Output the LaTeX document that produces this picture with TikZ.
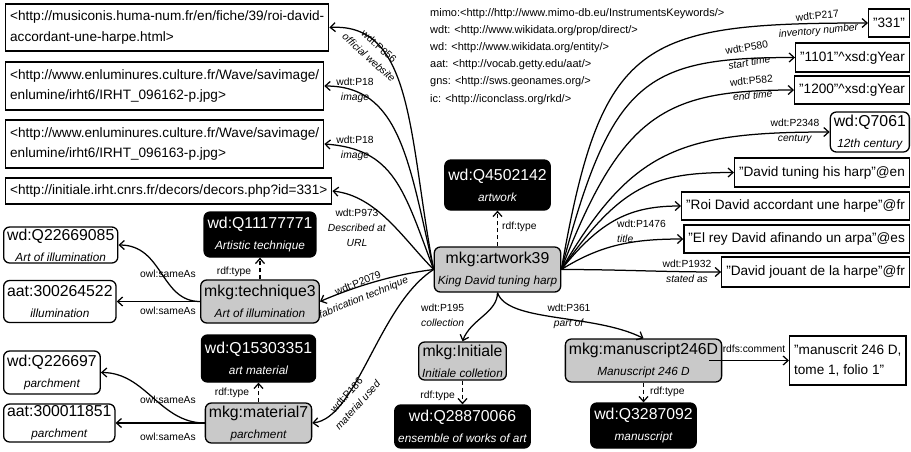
\documentclass[tikz,border=0pt]{standalone}
\usepackage{fontspec}
\setmainfont{Liberation Sans}
\usetikzlibrary{arrows.meta}

\newcommand{\fgrand}{\fontsize{15.8}{21}\selectfont}
\newcommand{\fpetit}{\fontsize{11.8}{13}\selectfont\itshape}
\newcommand{\flien}{\fontsize{10.3}{15}\selectfont}
\newcommand{\fadr}{\fontsize{13.6}{20.5}\selectfont}
\newcommand{\fns}{\fontsize{11}{17.2}\selectfont}
\newcommand{\ent}[2]{#1\\{\fpetit #2}}

\tikzset{
  classe/.style={draw, rounded corners=6pt, fill=black, text=white, font=\fgrand, align=center, inner xsep=3.5pt, inner ysep=1pt, line width=1.3pt},
  ressource/.style={draw, rounded corners=6pt, fill=gray!42, font=\fgrand, align=center, inner xsep=3.5pt, inner ysep=1pt, line width=1.3pt},
  externe/.style={draw, rounded corners=6pt, fill=white, font=\fgrand, align=center, inner xsep=3.5pt, inner ysep=1pt, line width=1.3pt},
  litteral/.style={draw, font=\fadr, align=left, inner xsep=4.5pt, inner ysep=1pt, line width=1.3pt},
  etiq/.style={font=\flien, align=center, inner sep=0pt},
  lien/.style={line width=1.25pt, -{Straight Barb[length=5pt,width=9pt]}},
  type/.style={lien, dash pattern=on 4pt off 3pt},
}

\begin{document}
\begin{tikzpicture}[x=1pt, y=1pt]
\useasboundingbox (0,0) rectangle (911,-451);

% Préfixes
\node[anchor=north west, align=left, font=\fns, inner sep=0pt] (prefixes) at (430,-8)
  {mimo:<http://http://www.mimo-db.eu/InstrumentsKeywords/>\\
   wdt: <http://www.wikidata.org/prop/direct/>\\
   wd: <http://www.wikidata.org/entity/>\\
   aat: <http://vocab.getty.edu/aat/>\\
   gns: <http://sws.geonames.org/>\\
   ic: <http://iconclass.org/rkd/>};

% Ressources
\node[ressource, minimum height=45] (art) at (497.5,-269.5) {\ent{mkg:artwork39}{King David tuning harp}};
\node[ressource, minimum height=43] (tech) at (260,-301.5) {\ent{mkg:technique3}{Art of illumination}};
\node[ressource, minimum height=40] (mat) at (258.5,-423) {\ent{mkg:material7}{parchment}};
\node[ressource, minimum height=38] (init) at (462.5,-361) {\ent{mkg:Initiale}{Initiale colletion}};
\node[ressource, minimum height=43] (manu) at (643.5,-360.5) {\ent{mkg:manuscript246D}{Manuscript 246 D}};

% Classes
\node[classe, minimum height=50] (q4502142) at (497.5,-185) {\ent{wd:Q4502142}{artwork}};
\node[classe, minimum height=45] (q11177771) at (260,-234.5) {\ent{wd:Q11177771}{Artistic technique}};
\node[classe, minimum height=47] (q15303351) at (258.5,-358.5) {\ent{wd:Q15303351}{art material}};
\node[classe, minimum height=43] (q28870066) at (462.5,-426.5) {\ent{wd:Q28870066}{ensemble of works of art}};
\node[classe, minimum height=45] (q3287092) at (643.5,-425.5) {\ent{wd:Q3287092}{manuscript}};

% Entités externes
\node[externe, anchor=west, minimum height=36] (q22669085) at (3,-245) {\ent{wd:Q22669085}{Art of illumination}};
\node[externe, anchor=west, minimum height=42] (a300264522) at (3,-301.5) {\ent{aat:300264522}{illumination}};
\node[externe, anchor=west, minimum height=43] (q226697) at (3,-372.5) {\ent{wd:Q226697}{parchment}};
\node[externe, anchor=west, minimum height=38] (a300011851) at (3,-423) {\ent{aat:300011851}{parchment}};
\node[externe, anchor=east, minimum height=40] (q7061) at (910,-132) {\ent{wd:Q7061}{12th century}};

% Littéraux
\node[litteral, anchor=west, minimum height=47] (u1) at (5,-27.5)
  {<http://musiconis.huma-num.fr/en/fiche/39/roi-david-\\accordant-une-harpe.html>};
\node[litteral, anchor=west, minimum height=48] (u2) at (5,-86)
  {<http://www.enluminures.culture.fr/Wave/savimage/\\enlumine/irht6/IRHT\_096162-p.jpg>};
\node[litteral, anchor=west, minimum height=48] (u3) at (5,-144)
  {<http://www.enluminures.culture.fr/Wave/savimage/\\enlumine/irht6/IRHT\_096163-p.jpg>};
\node[litteral, anchor=west, minimum height=26] (u4) at (5,-191)
  {<http://initiale.irht.cnrs.fr/decors/decors.php?id=331>};
\node[litteral, anchor=east, minimum height=28] (v331) at (910,-23) {"331"};
\node[litteral, anchor=east, minimum height=29] (v1101) at (910,-57.5) {"1101"\textasciicircum xsd:gYear};
\node[litteral, anchor=east, minimum height=28] (v1200) at (910,-90) {"1200"\textasciicircum xsd:gYear};
\node[litteral, anchor=east, minimum height=29] (tuning) at (910,-172.5) {"David tuning his harp"@en};
\node[litteral, anchor=east, minimum height=28] (roi) at (910,-206) {"Roi David accordant une harpe"@fr};
\node[litteral, anchor=east, minimum height=28] (elrey) at (910,-239) {"El rey David afinando un arpa"@es};
\node[litteral, anchor=east, minimum height=30] (jouant) at (910,-272) {"David jouant de la harpe"@fr};
\node[litteral, anchor=west, minimum height=49] (comment) at (789,-360.5) {"manuscrit 246 D,\\tome 1, folio 1"};

% Liens vers la gauche
\draw[lien] (art.west) .. controls +(-25,130) and +(85,5) .. (u1.east);
\draw[lien] (art.west) .. controls +(-25,110) and +(75,0) .. (u2.east);
\draw[lien] (art.west) .. controls +(-30,80) and +(70,-5) .. (u3.east);
\draw[lien] (art.west) .. controls +(-30,30) and +(45,-5) .. (u4.east);
\draw[lien] (art.west) .. controls +(-40,-5) and +(35,15) .. (tech.east);
\draw[lien] (art.west) .. controls +(-55,-35) and +(45,5) .. (mat.east);

% Liens vers la droite
\draw[lien] (art.east) .. controls +(40,229) and +(-229,0) .. (v331.west);
\draw[lien] (art.east) .. controls +(50,190) and +(-150,0) .. (v1101.west);
\draw[lien] (art.east) .. controls +(60,155) and +(-130,0) .. (v1200.west);
\draw[lien] (art.east) .. controls +(70,120) and +(-150,0) .. (q7061.west);
\draw[lien] (art.east) .. controls +(60,85) and +(-80,0) .. (tuning.west);
\draw[lien] (art.east) .. controls +(40,50) and +(-50,0) .. (roi.west);
\draw[lien] (art.east) .. controls +(40,25) and +(-50,0) .. (elrey.west);
\draw[lien] (art.east) .. controls +(60,0) and +(-60,0) .. (jouant.west);

% Liens vers le bas
\draw[lien] (art.south) .. controls +(0,-20) and +(8,22) .. (init.north);
\draw[lien] (art.south) .. controls +(10,-30) and +(-50,25) .. (manu.north);
\draw[lien] ([xshift=-13pt]manu.east) -- (comment.west);

% rdf:type
\draw[type] (art) -- (q4502142);
\draw[type] (tech) -- (q11177771);
\draw[type] (mat) -- (q15303351);
\draw[type] (init) -- (q28870066);
\draw[type] (manu) -- (q3287092);

% owl:sameAs
\draw[lien] (tech.west) .. controls +(-40,0) and +(45,0) .. (q22669085.east);
\draw[lien] (tech.west) -- (tech.west -| a300264522.east);
\draw[lien] (mat.west) .. controls +(-45,0) and +(45,0) .. (q226697.east);
\draw[lien] (mat.west) -- (mat.west -| a300011851.east);

% Étiquettes
\node[etiq, rotate=-42] (l856) at (374,-52) {wdt:P856\\\textit{official website}};
\node[etiq] (l18a) at (355,-90) {wdt:P18\\\textit{image}};
\node[etiq] (l18b) at (355,-148) {wdt:P18\\\textit{image}};
\node[etiq] (l973) at (357,-228) {wdt:P973\\\textit{Described at}\\\textit{URL}};
\node[etiq, rotate=22] (l2079) at (361,-291) {wdt:P2079\\\textit{fabrication technique}};
\node[etiq, rotate=48] (l186) at (352,-400) {wdt:P186\\\textit{material used}};
\node[etiq, anchor=west] (tart) at (502,-227) {rdf:type};
\node[etiq, anchor=west, align=left] (l195) at (421,-315) {wdt:P195\\\textit{collection}};
\node[etiq, anchor=east] (tinit) at (455,-396) {rdf:type};
\node[etiq] (l361) at (569,-316) {wdt:P361\\\textit{part of}};
\node[etiq, anchor=west] (tmanu) at (650,-392) {rdf:type};
\node[etiq] (lcom) at (754,-349) {rdfs:comment};
\node[etiq] (ttech) at (234,-272) {rdf:type};
\node[etiq] (s1) at (168,-274) {owl:sameAs};
\node[etiq] (s2) at (168,-311) {owl:sameAs};
\node[etiq] (tmat) at (232,-393) {rdf:type};
\node[etiq] (s3) at (168,-400) {owl:sameAs};
\node[etiq] (s4) at (168,-437) {owl:sameAs};
\node[etiq, rotate=5] (l217) at (818,-24) {wdt:P217\\\textit{inventory number}};
\node[etiq, rotate=10] (l580) at (748,-55) {wdt:P580\\\textit{start time}};
\node[etiq, rotate=5] (l582) at (752,-88) {wdt:P582\\\textit{end time}};
\node[etiq] (l2348) at (795,-131) {wdt:P2348\\\textit{century}};
\node[etiq, anchor=west, align=left] (l1476) at (617,-231) {wdt:P1476\\\textit{title}};
\node[etiq] (l1932) at (687,-271) {wdt:P1932\\\textit{stated as}};

\end{tikzpicture}
\end{document}
